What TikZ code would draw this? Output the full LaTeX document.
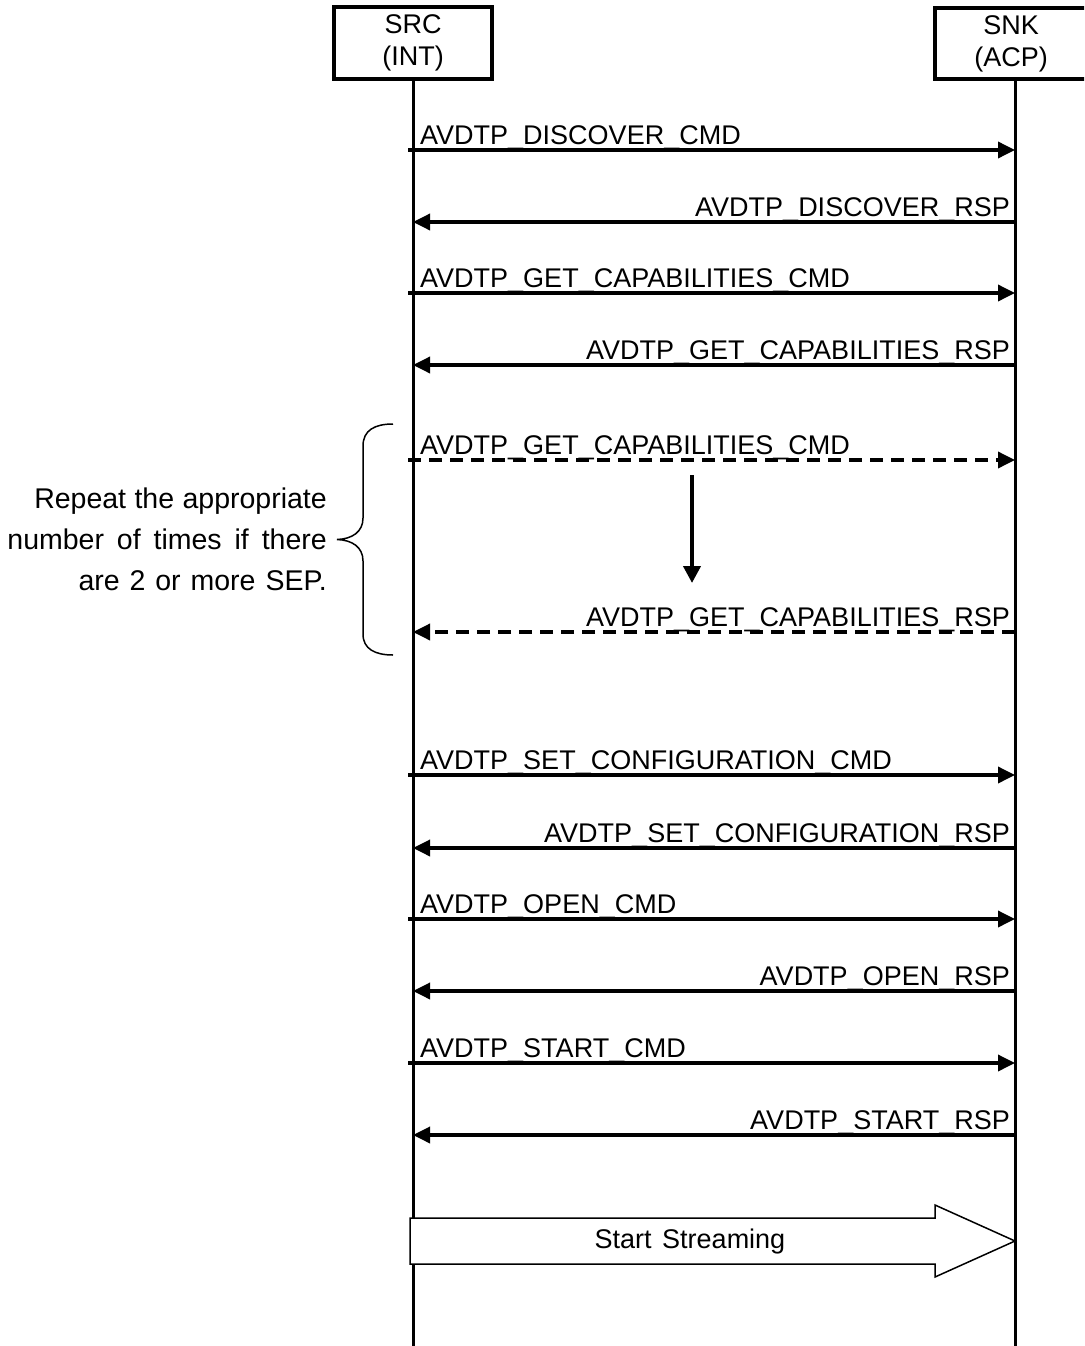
\documentclass[tikz,border=0pt]{standalone}
\usepackage{fontspec}
\setmainfont{Liberation Sans}
\usetikzlibrary{arrows.meta}
\begin{document}
\begin{tikzpicture}[x=1pt,y=-1pt,
  every node/.style={font=\fontsize{27}{32}\selectfont, inner sep=0pt},
  actor/.style={draw, line width=4pt, align=center, minimum height=71pt},
  life/.style={line width=3pt},
  msg/.style={line width=3.5pt, -{Triangle[length=17pt,width=16pt]}},
  optmsg/.style={msg, dash pattern=on 13pt off 8pt},
  cmdlbl/.style={anchor=base west},
  rsplbl/.style={anchor=base east},
]
\useasboundingbox (0,0) rectangle (1084,1346);
\clip (0,0) rectangle (1084,1346);

% participants
\node[actor, minimum width=158pt] (src) at (413,43) {SRC\\(INT)};
\node[actor, minimum width=152pt] (snk) at (1011,43.5) {SNK\\(ACP)};

% lifelines
\coordinate (srctop) at (413,79);
\coordinate (srcbot) at (413,1346);
\coordinate (snktop) at (1015,80);
\coordinate (snkbot) at (1015,1346);
\draw[life] (srctop) -- (srcbot);
\draw[life] (snktop) -- (snkbot);

% start streaming
\draw[line width=1.5pt, fill=white]
  (410,1218) -- (935,1218) -- (935,1205) -- (1015,1241)
  -- (935,1277) -- (935,1264) -- (410,1264) -- cycle;
\node (stream) at (690,1242) {Start\hspace{3pt} Streaming};

% message endpoints: a = SRC side, b = SNK side
\foreach \i/\y in {1/150,2/222,3/293,4/365,5/460,6/632,7/775,8/848,9/919,10/991,11/1063,12/1135}{
  \coordinate (a\i) at (408,\y);
  \coordinate (ai\i) at (413,\y);
  \coordinate (b\i) at (1015,\y);
}

\draw[msg] (a1) -- (b1);
\node[cmdlbl] (m1) at (420,144) {AVDTP\_DISCOVER\_CMD};
\draw[msg] (b2) -- (ai2);
\node[rsplbl] (m2) at (1010,216) {AVDTP\_DISCOVER\_RSP};
\draw[msg] (a3) -- (b3);
\node[cmdlbl] (m3) at (420,287) {AVDTP\_GET\_CAPABILITIES\_CMD};
\draw[msg] (b4) -- (ai4);
\node[rsplbl] (m4) at (1010,359) {AVDTP\_GET\_CAPABILITIES\_RSP};

\draw[optmsg] (a5) -- (b5);
\node[cmdlbl] (m5) at (420,454) {AVDTP\_GET\_CAPABILITIES\_CMD};
\draw[optmsg] (b6) -- (ai6);
\node[rsplbl] (m6) at (1010,626) {AVDTP\_GET\_CAPABILITIES\_RSP};

% repetition marker
\coordinate (rep1) at (692,475);
\coordinate (rep2) at (692,583);
\draw[line width=4pt, -{Triangle[length=17pt,width=17pt]}] (rep1) -- (rep2);

% brace around the repeated exchange
\draw[line width=1.5pt]
  (393,424) .. controls (375,424) and (363,430) .. (363,446)
  -- (363,518) .. controls (363,532) and (352,539) .. (337,539.5)
  .. controls (352,540) and (363,547) .. (363,561)
  -- (363,634) .. controls (363,649) and (375,655) .. (393,655);
\node[anchor=east, align=right, font=\fontsize{28.5}{41}\selectfont]
  (note) at (327,539) {Repeat\hspace{0.5pt} the\hspace{0.5pt} appropriate\\number\hspace{5pt} of\hspace{5pt} times\hspace{5pt} if\hspace{5pt} there\\are\hspace{2pt} 2\hspace{2pt} or\hspace{2pt} more\hspace{2pt} SEP.};

\draw[msg] (a7) -- (b7);
\node[cmdlbl] (m7) at (420,769) {AVDTP\_SET\_CONFIGURATION\_CMD};
\draw[msg] (b8) -- (ai8);
\node[rsplbl] (m8) at (1010,842) {AVDTP\_SET\_CONFIGURATION\_RSP};
\draw[msg] (a9) -- (b9);
\node[cmdlbl] (m9) at (420,913) {AVDTP\_OPEN\_CMD};
\draw[msg] (b10) -- (ai10);
\node[rsplbl] (m10) at (1010,985) {AVDTP\_OPEN\_RSP};
\draw[msg] (a11) -- (b11);
\node[cmdlbl] (m11) at (420,1057) {AVDTP\_START\_CMD};
\draw[msg] (b12) -- (ai12);
\node[rsplbl] (m12) at (1010,1129) {AVDTP\_START\_RSP};
\end{tikzpicture}
\end{document}
